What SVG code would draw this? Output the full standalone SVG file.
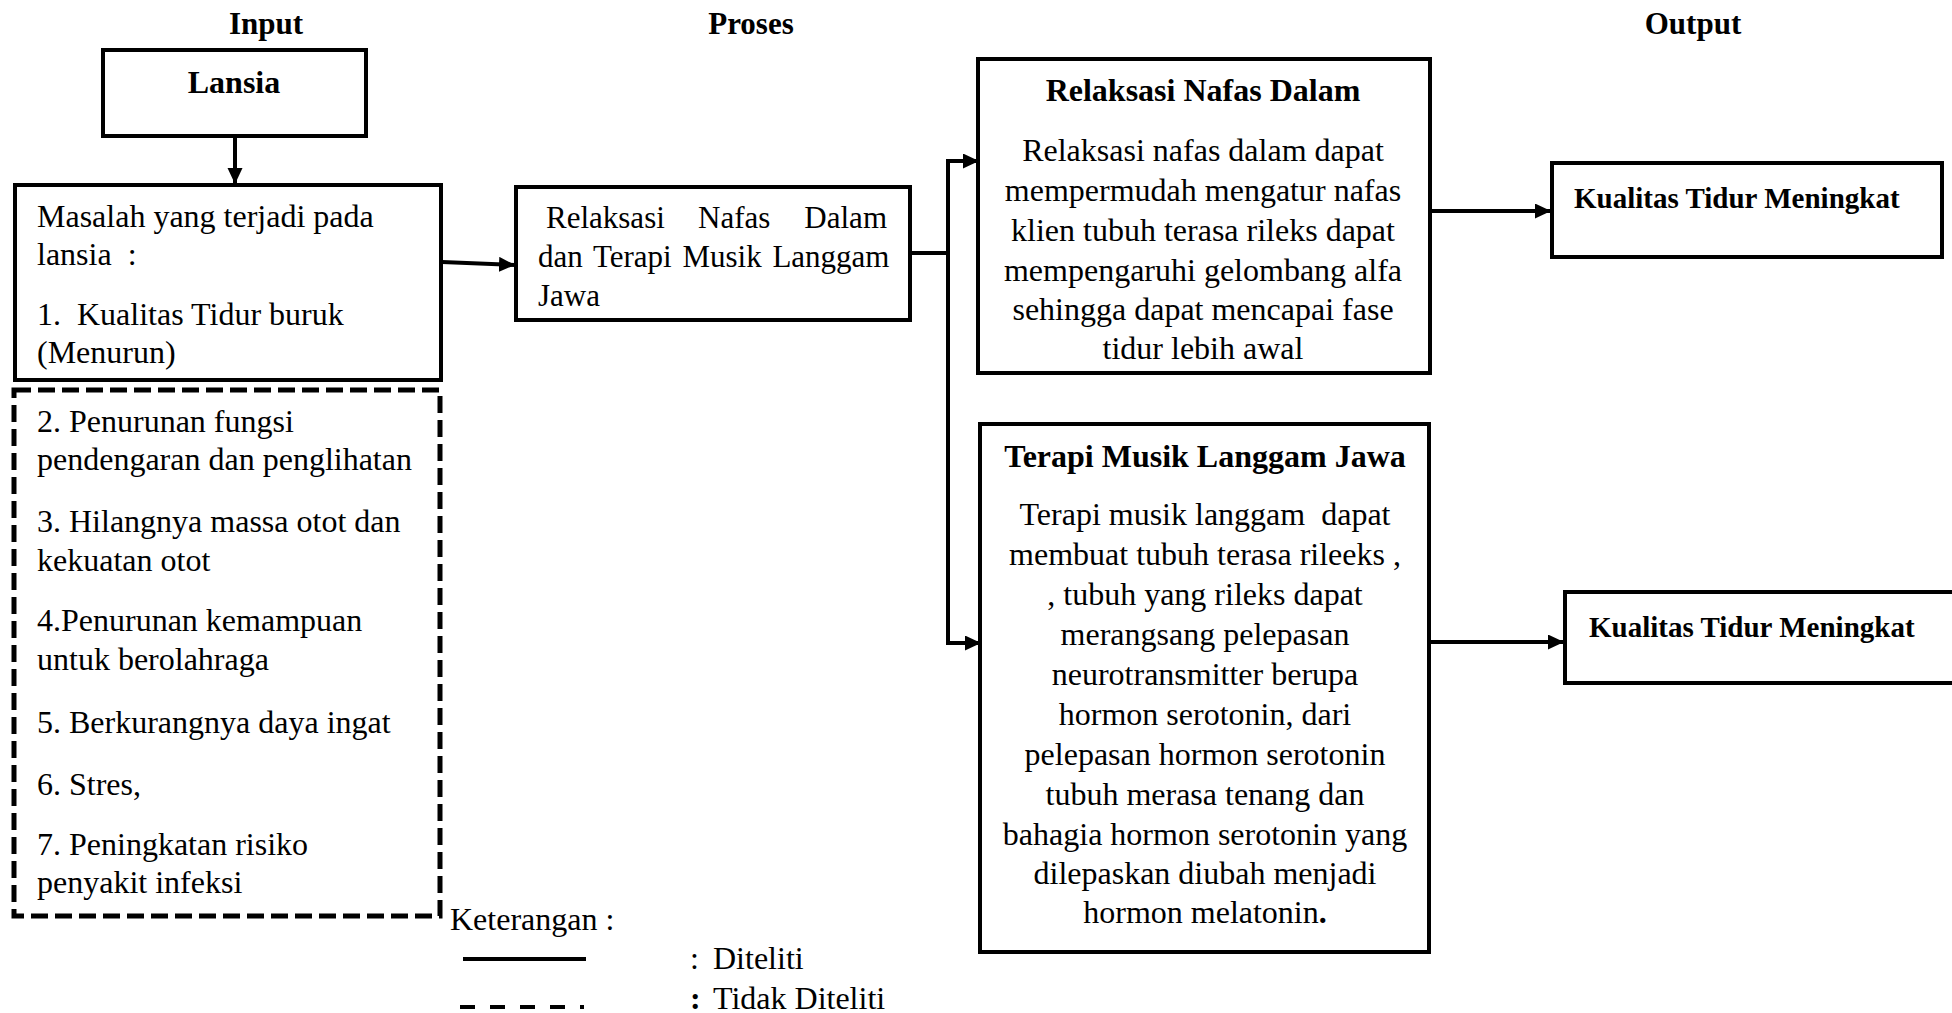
<svg xmlns="http://www.w3.org/2000/svg" width="1952" height="1013" viewBox="0 0 1952 1013">
<style>
  .box{fill:#fff;stroke:#000;stroke-width:4}
  .dash{fill:none;stroke:#000;stroke-width:5;stroke-dasharray:17 7}
  .t{font-family:"Liberation Serif","Times New Roman",serif;font-size:32px;fill:#000}
  .b{font-weight:bold}
  .h{font-family:"Liberation Serif","Times New Roman",serif;font-size:31px;font-weight:bold;fill:#000;text-anchor:middle}
  .c{text-anchor:middle}
  .k{font-family:"Liberation Serif","Times New Roman",serif;font-size:29px;font-weight:bold;fill:#000}
  .ln{fill:none;stroke:#000;stroke-width:4}
</style>
<defs>
  <marker id="arr" markerUnits="userSpaceOnUse" markerWidth="16" markerHeight="16" refX="16" refY="7.5" orient="auto">
    <path d="M0,0 L16,7.5 L0,15 z" fill="#000"/>
  </marker>
</defs>
<rect width="1952" height="1013" fill="#fff"/>

<g id="headings">
  <text class="h" x="266" y="34">Input</text>
  <text class="h" x="751" y="34">Proses</text>
  <text class="h" x="1693" y="34">Output</text>
</g>

<g id="connectors">
  <line class="ln" x1="235" y1="138" x2="235" y2="184" marker-end="url(#arr)"/>
  <line class="ln" x1="442" y1="262" x2="515" y2="265" marker-end="url(#arr)"/>
  <polyline class="ln" points="910,253 948,253"/>
  <line class="ln" x1="948" y1="159" x2="948" y2="645"/>
  <line class="ln" x1="946" y1="161" x2="979" y2="161" marker-end="url(#arr)"/>
  <line class="ln" x1="946" y1="643" x2="981" y2="643" marker-end="url(#arr)"/>
  <line class="ln" x1="1430" y1="211" x2="1551" y2="211" marker-end="url(#arr)"/>
  <line class="ln" x1="1429" y1="642" x2="1564" y2="642" marker-end="url(#arr)"/>
</g>

<g id="lansia">
  <rect class="box" x="103" y="50" width="263" height="86"/>
  <text class="t b c" x="234" y="93">Lansia</text>
</g>

<g id="masalah">
  <rect class="box" x="15" y="185" width="426" height="195"/>
  <text class="t" x="37" y="227">Masalah yang terjadi pada</text>
  <text class="t" x="37" y="265" xml:space="preserve">lansia  :</text>
  <text class="t" x="37" y="325" xml:space="preserve">1.  Kualitas Tidur buruk</text>
  <text class="t" x="37" y="363">(Menurun)</text>
</g>

<g id="tidak-diteliti">
  <rect class="dash" x="14" y="390" width="426" height="526"/>
  <text class="t" x="37" y="432">2. Penurunan fungsi</text>
  <text class="t" x="37" y="470">pendengaran dan penglihatan</text>
  <text class="t" x="37" y="532">3. Hilangnya massa otot dan</text>
  <text class="t" x="37" y="571">kekuatan otot</text>
  <text class="t" x="37" y="631">4.Penurunan kemampuan</text>
  <text class="t" x="37" y="670">untuk berolahraga</text>
  <text class="t" x="37" y="733">5. Berkurangnya daya ingat</text>
  <text class="t" x="37" y="795">6. Stres,</text>
  <text class="t" x="37" y="855">7. Peningkatan risiko</text>
  <text class="t" x="37" y="893">penyakit infeksi</text>
</g>

<g id="proses">
  <rect class="box" x="516" y="187" width="394" height="133"/>
  <text class="t" style="font-size:31px" x="546" y="228">Relaksasi</text>
  <text class="t" style="font-size:31px" x="698" y="228">Nafas</text>
  <text class="t" style="font-size:31px;text-anchor:end" x="887" y="228">Dalam</text>
  <text class="t" style="font-size:31px;word-spacing:3px" x="538" y="267">dan Terapi Musik Langgam</text>
  <text class="t" style="font-size:31px" x="538" y="306">Jawa</text>
</g>

<g id="relaksasi">
  <rect class="box" x="978" y="59" width="452" height="314"/>
  <text class="t b c" x="1203" y="101">Relaksasi Nafas Dalam</text>
  <text class="t c" x="1203" y="161">Relaksasi nafas dalam dapat</text>
  <text class="t c" x="1203" y="201">mempermudah mengatur nafas</text>
  <text class="t c" x="1203" y="241">klien tubuh terasa rileks dapat</text>
  <text class="t c" x="1203" y="281">mempengaruhi gelombang alfa</text>
  <text class="t c" x="1203" y="320">sehingga dapat mencapai fase</text>
  <text class="t c" x="1203" y="359">tidur lebih awal</text>
</g>

<g id="terapi">
  <rect class="box" x="980" y="424" width="449" height="528"/>
  <text class="t b c" x="1205" y="467">Terapi Musik Langgam Jawa</text>
  <text class="t c" x="1205" y="525" xml:space="preserve">Terapi musik langgam  dapat</text>
  <text class="t c" x="1205" y="565">membuat tubuh terasa rileeks ,</text>
  <text class="t c" x="1205" y="605">, tubuh yang rileks dapat</text>
  <text class="t c" x="1205" y="645">merangsang pelepasan</text>
  <text class="t c" x="1205" y="685">neurotransmitter berupa</text>
  <text class="t c" x="1205" y="725">hormon serotonin, dari</text>
  <text class="t c" x="1205" y="765">pelepasan hormon serotonin</text>
  <text class="t c" x="1205" y="805">tubuh merasa tenang dan</text>
  <text class="t c" x="1205" y="845">bahagia hormon serotonin yang</text>
  <text class="t c" x="1205" y="884">dilepaskan diubah menjadi</text>
  <text class="t c" x="1205" y="923">hormon melatonin<tspan class="b">.</tspan></text>
</g>

<g id="kualitas1">
  <rect class="box" x="1552" y="163" width="390" height="94"/>
  <text class="k" x="1574" y="208">Kualitas Tidur Meningkat</text>
</g>

<g id="kualitas2">
  <rect class="box" x="1565" y="592" width="420" height="91"/>
  <text class="k" x="1589" y="637">Kualitas Tidur Meningkat</text>
</g>

<g id="legend">
  <text class="t" x="450" y="930">Keterangan :</text>
  <line x1="463" y1="959" x2="586" y2="959" stroke="#000" stroke-width="4"/>
  <text class="t" x="690" y="969">:</text>
  <text class="t" x="713" y="969">Diteliti</text>
  <line x1="460" y1="1007" x2="584" y2="1007" stroke="#000" stroke-width="4" stroke-dasharray="15 15"/>
  <text class="t b" x="690" y="1009">:</text>
  <text class="t" x="713" y="1009">Tidak Diteliti</text>
</g>
</svg>
